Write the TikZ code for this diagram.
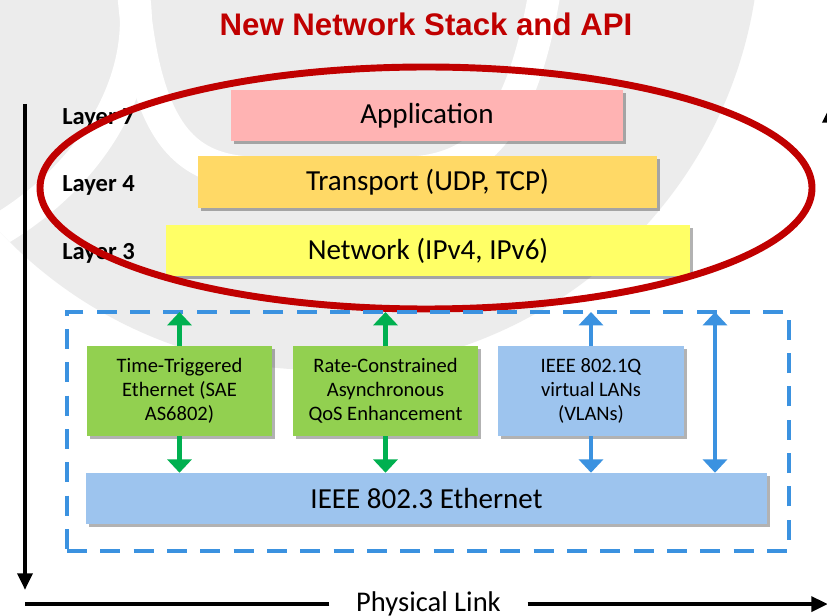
\documentclass[tikz,border=0pt]{standalone}
\usepackage{fontspec}
\setmainfont{Carlito}
\newfontfamily\titlefont{Liberation Sans}
\usetikzlibrary{arrows.meta,shadows}
\definecolor{titlered}{RGB}{192,0,0}
\definecolor{bggrey}{RGB}{236,236,236}
\definecolor{appred}{RGB}{255,179,179}
\definecolor{transorange}{RGB}{255,217,102}
\definecolor{netyellow}{RGB}{255,255,102}
\definecolor{ttgreen}{RGB}{146,208,80}
\definecolor{lanblue}{RGB}{157,196,238}
\definecolor{arrowgreen}{RGB}{0,176,80}
\definecolor{frameblue}{RGB}{59,146,224}
\newcommand{\pxu}{0.75pt}
\tikzstyle{stackshadow}=[rectangle, inner sep=0pt, align=center, drop shadow={shadow xshift=2.2pt, shadow yshift=-2.2pt, fill=black, opacity=0.3}]
\tikzstyle{layerbox}=[stackshadow, font=\fontsize{21.8}{26}\selectfont, minimum height=51*\pxu]
\tikzstyle{protobox}=[stackshadow, font=\fontsize{15.4}{18}\selectfont, minimum width=185*\pxu, minimum height=90*\pxu]
\tikzstyle{layerlabel}=[anchor=base west, inner sep=0pt, font=\bfseries\fontsize{18.4}{22}\selectfont]
\tikzstyle{frame}=[draw=frameblue, line width=3.7pt, dash pattern=on 15pt off 10pt, outer sep=0pt]
\tikzstyle{garrow}=[draw=arrowgreen, line width=3.2pt, -{Triangle[width=18pt,length=10pt]}]
\tikzstyle{barrow}=[garrow, draw=frameblue]
\tikzstyle{twoway}=[{Triangle[width=18pt,length=10pt]}-{Triangle[width=18pt,length=10pt]}]
\tikzstyle{axisline}=[line width=3.5pt, black]
\tikzstyle{axishead}=[-{Triangle[width=11pt,length=12.5pt]}]
\tikzstyle{swoosh}=[white, line width=24pt]
\newcommand{\stackbox}{\node[layerbox]}
\newcommand{\protonode}{\node[protobox]}

\begin{document}
\begin{tikzpicture}[x=\pxu, y=-\pxu]
\useasboundingbox (0,0) rectangle (827,616);
\fill[white] (0,0) rectangle (827,616);
\fill[bggrey] (320,-70) circle [radius=440];
\begin{scope}
\clip (320,-70) circle [radius=440];
\draw[swoosh] (133,-10) .. controls (150,200) and (230,172) .. (330,172) .. controls (430,172) and (510,200) .. (545,-10);
\draw[swoosh] (133,-10) .. controls (150,80) and (90,180) .. (-10,235);
\end{scope}
\node[font=\titlefont\bfseries\fontsize{23.4}{28}\selectfont, text=titlered] (title) at (426,24) {New Network Stack and API};
\stackbox (app) at (427,115.5) [fill=appred, minimum width=392*\pxu] {Application};
\stackbox (trans) at (427.5,182) [fill=transorange, minimum width=459*\pxu, minimum height=52*\pxu] {Transport (UDP, TCP)};
\stackbox (net) at (428,250.5) [fill=netyellow, minimum width=524*\pxu] {Network (IPv4, IPv6)};
\node[layerlabel] (l7) at (62,125) {Layer 7};
\node[layerlabel] (l4) at (62,192) {Layer 4};
\node[layerlabel] (l3) at (62,260) {Layer 3};
\draw[titlered, line width=5.2pt] (426,188) ellipse [x radius=386, y radius=121];
\node[frame, minimum width=722*\pxu, minimum height=239*\pxu] (frame) at (428,431.5) {};
\protonode (tt) at (179.5,391) [fill=ttgreen] {Time-Triggered\\Ethernet (SAE\\AS6802)};
\protonode (rc) at (385.5,391) [fill=ttgreen] {Rate-Constrained\\Asynchronous\\QoS Enhancement};
\protonode (vlan) at (591,391) [fill=lanblue, minimum width=186*\pxu] {IEEE 802.1Q\\virtual LANs\\(VLANs)};
\stackbox (eth) at (426.5,498.5) [fill=lanblue, minimum width=681*\pxu] {IEEE 802.3 Ethernet};
\draw[garrow] (tt.north) -- (tt.north |- frame.north);
\draw[garrow] (tt.south) -- (tt.south |- eth.north);
\draw[garrow] (rc.north) -- (rc.north |- frame.north);
\draw[garrow] (rc.south) -- (rc.south |- eth.north);
\draw[barrow] (vlan.north) -- (vlan.north |- frame.north);
\draw[barrow] (vlan.south) -- (vlan.south |- eth.north);
\coordinate (lan) at (715,400);
\draw[barrow, twoway] (lan |- eth.north) -- (lan |- frame.north);
\coordinate (axtop) at (25,104);
\coordinate (axbot) at (25,590);
\draw[axisline, axishead] (axtop) -- (axbot);
\coordinate (rtbot) at (830,590);
\coordinate (rttop) at (830,106);
\draw[axisline, axishead] (rtbot) -- (rttop);
\node[anchor=base, inner xsep=20pt, inner ysep=0pt, font=\fontsize{21.4}{26}\selectfont] (link) at (428.5,611.7) {Physical Link};
\coordinate (linkend) at (828,604);
\draw[axisline] (link.west) -- (link.west -| axtop);
\draw[axisline, axishead] (link.east) -- (link.east -| linkend);
\end{tikzpicture}
\end{document}
